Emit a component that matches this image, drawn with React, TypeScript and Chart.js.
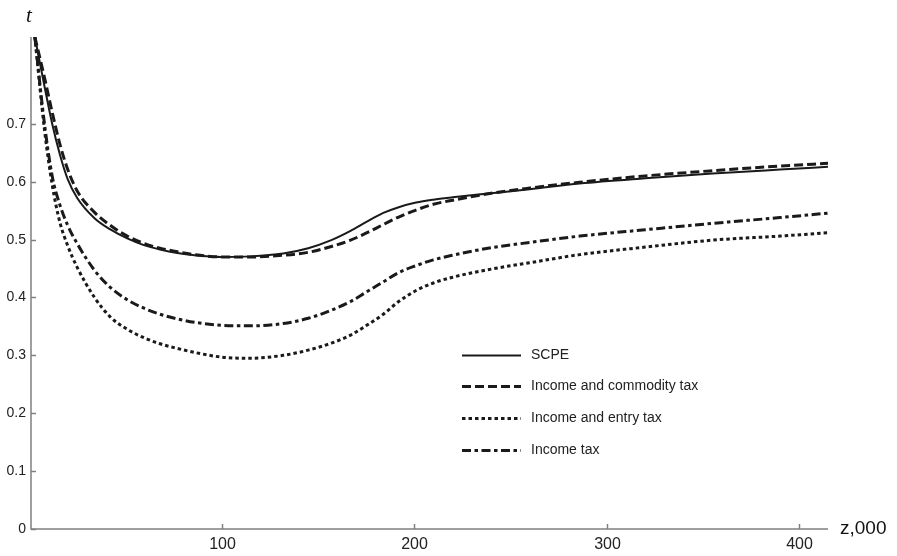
import React, { useEffect, useRef } from "react";
import { Chart, registerables } from "chart.js";

Chart.register(...registerables);

const Z = [3, 8, 12, 16, 20, 25, 34, 42, 51, 60, 68, 77, 86, 100, 115, 132, 145, 157, 167, 175, 184, 192, 201, 210, 220, 240, 260, 286, 320, 355, 390, 416];

const SCPE = [0.85, 0.765, 0.70, 0.647, 0.605, 0.572, 0.537, 0.518, 0.502, 0.49, 0.483, 0.477, 0.473, 0.47, 0.471, 0.476, 0.485, 0.499, 0.515, 0.53, 0.546, 0.556, 0.564, 0.569, 0.573, 0.58, 0.587, 0.597, 0.606, 0.614, 0.621, 0.626];
const COMMODITY = [0.85, 0.78, 0.72, 0.665, 0.622, 0.584, 0.547, 0.525, 0.506, 0.493, 0.485, 0.479, 0.474, 0.47, 0.47, 0.473, 0.478, 0.488, 0.499, 0.511, 0.526, 0.539, 0.551, 0.561, 0.568, 0.58, 0.589, 0.599, 0.61, 0.619, 0.627, 0.632];
const ENTRY = [0.85, 0.69, 0.595, 0.53, 0.49, 0.452, 0.40, 0.367, 0.345, 0.33, 0.32, 0.312, 0.305, 0.297, 0.295, 0.30, 0.309, 0.321, 0.335, 0.351, 0.371, 0.393, 0.412, 0.425, 0.435, 0.449, 0.46, 0.474, 0.487, 0.499, 0.506, 0.512];
const INCOME = [0.85, 0.70, 0.61, 0.56, 0.525, 0.493, 0.447, 0.418, 0.396, 0.381, 0.371, 0.363, 0.357, 0.352, 0.351, 0.355, 0.364, 0.378, 0.393, 0.409, 0.427, 0.443, 0.455, 0.465, 0.473, 0.486, 0.495, 0.506, 0.517, 0.528, 0.538, 0.546];

const SERIES_NAMES = ["SCPE", "Income and commodity tax", "Income and entry tax", "Income tax"];
const Y_TICKS = [0, 0.1, 0.2, 0.3, 0.4, 0.5, 0.6, 0.7];
const X_TICKS = [100, 200, 300, 400];

const INK = "#1a1a1a";
const AXIS = "#808080";
const STYLES = [
  { width: 2, dash: [] as number[] },
  { width: 3, dash: [9, 4] },
  { width: 3, dash: [3.5, 3] },
  { width: 3, dash: [9, 3.5, 3.5, 3.5] },
];

function pts(ys: number[]) {
  return Z.map((x, i) => ({ x, y: ys[i] }));
}

const decor = {
  id: "decor",
  afterDatasetsDraw(chart: any) {
    const { ctx, chartArea, scales } = chart;
    const xs = scales.x;
    const ys = scales.y;
    ctx.save();
    ctx.strokeStyle = AXIS;
    ctx.lineWidth = 1.5;
    ctx.setLineDash([]);
    ctx.beginPath();
    ctx.moveTo(chartArea.left, chartArea.top);
    ctx.lineTo(chartArea.left, chartArea.bottom);
    ctx.lineTo(chartArea.right, chartArea.bottom);
    ctx.stroke();
    ctx.fillStyle = "#222";
    ctx.font = "14px 'Liberation Sans', Arial, sans-serif";
    ctx.textAlign = "right";
    ctx.textBaseline = "middle";
    Y_TICKS.forEach((v) => {
      const py = Math.round(ys.getPixelForValue(v)) + 0.5;
      ctx.beginPath();
      ctx.moveTo(chartArea.left, py);
      ctx.lineTo(chartArea.left + 5, py);
      ctx.stroke();
      ctx.fillText(v === 0 ? "0" : v.toFixed(1), chartArea.left - 5, py);
    });
    ctx.font = "16px 'Liberation Sans', Arial, sans-serif";
    ctx.textAlign = "center";
    X_TICKS.forEach((v) => {
      const px = Math.round(xs.getPixelForValue(v)) + 0.5;
      ctx.beginPath();
      ctx.moveTo(px, chartArea.bottom);
      ctx.lineTo(px, chartArea.bottom - 5);
      ctx.stroke();
      ctx.fillText(String(v), px, chartArea.bottom + 16);
    });
    ctx.fillStyle = "#111";
    ctx.font = "19px 'Liberation Sans', Arial, sans-serif";
    ctx.textAlign = "left";
    ctx.fillText("z,000", chartArea.right + 12, chartArea.bottom);
    ctx.font = "italic 21px 'Liberation Serif', 'Times New Roman', serif";
    ctx.textAlign = "center";
    ctx.fillText("t", chartArea.left - 2, 16);
    const lx0 = 462;
    const lx1 = 521;
    const rows = [355, 386, 418, 450];
    ctx.font = "14px 'Liberation Sans', Arial, sans-serif";
    ctx.textAlign = "left";
    SERIES_NAMES.forEach((name, i) => {
      const y = rows[i];
      ctx.strokeStyle = INK;
      ctx.lineWidth = STYLES[i].width;
      ctx.setLineDash(STYLES[i].dash);
      ctx.beginPath();
      ctx.moveTo(lx0, y + 0.5);
      ctx.lineTo(lx1, y + 0.5);
      ctx.stroke();
      ctx.fillStyle = "#222";
      ctx.fillText(name, 531, y);
    });
    ctx.restore();
  },
};

export default function App() {
  const ref = useRef<HTMLCanvasElement>(null);
  useEffect(() => {
    if (!ref.current) return;
    const all = [SCPE, COMMODITY, ENTRY, INCOME];
    const chart = new Chart(ref.current, {
      type: "line",
      data: {
        datasets: all.map((d, i) => ({
          label: SERIES_NAMES[i],
          data: pts(d),
          borderColor: INK,
          borderWidth: STYLES[i].width,
          borderDash: STYLES[i].dash,
          pointRadius: 0,
          fill: false,
          cubicInterpolationMode: "monotone" as const,
        })),
      },
      options: {
        animation: false,
        responsive: false,
        devicePixelRatio: 1,
        layout: { padding: { left: 31, right: 69, top: 37, bottom: 27 } },
        scales: {
          x: { type: "linear", min: 1, max: 415, display: false },
          y: { type: "linear", min: 0, max: 0.85, display: false },
        },
        plugins: { legend: { display: false }, tooltip: { enabled: false } },
      },
      plugins: [decor],
    });
    return () => chart.destroy();
  }, []);
  return (
    <div style={{ position: "fixed", left: 0, top: 0, width: 897, height: 556, background: "#fff" }}>
      <canvas ref={ref} width={897} height={556} style={{ width: 897, height: 556 }} />
    </div>
  );
}
